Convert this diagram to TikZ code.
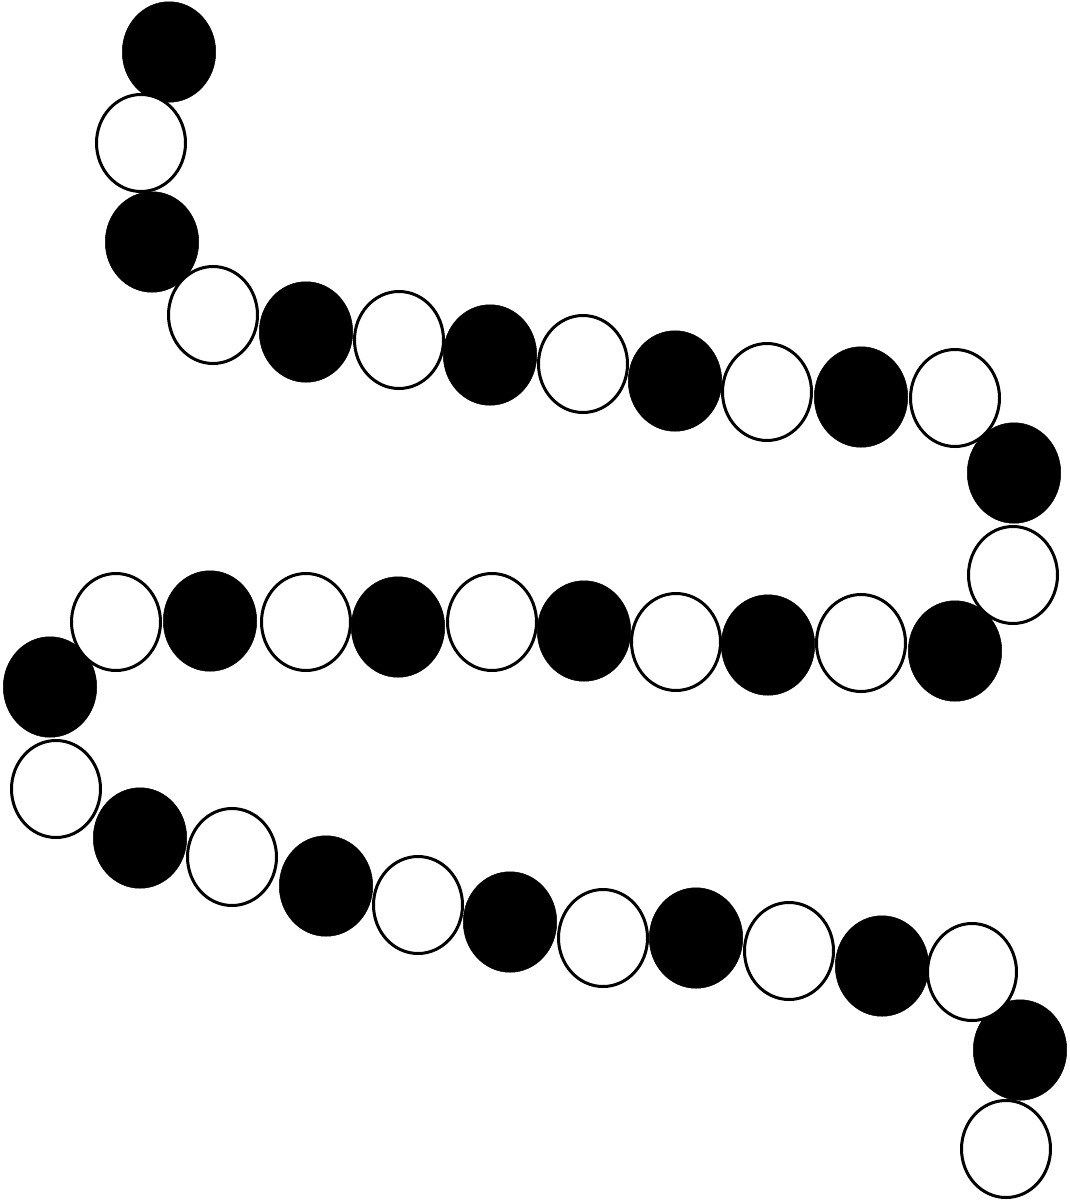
\documentclass[tikz,border=0pt]{standalone}
\usetikzlibrary{shapes.geometric}
\begin{document}
\begin{tikzpicture}[x=1pt,y=-1pt,
  blackbead/.style={ellipse,fill=black,draw=black,line width=0.5pt,inner sep=0pt,minimum width=93.5pt,minimum height=100.5pt},
  whitebead/.style={ellipse,fill=white,draw=black,line width=3pt,inner sep=0pt,minimum width=89pt,minimum height=97pt}]
\useasboundingbox (0,0) rectangle (1070,1200);
% black beads
\foreach \n/\x/\y in {1/169/52,3/152/242,5/306/332,7/490/355,9/675/381,11/861/397,13/1014/473,15/955/651,17/768/645,19/584/631,21/398/627,23/210/621,25/50/687,27/140/838,29/326/886,31/510/922,33/696/938,35/882/966,37/1020/1050}
  \node[blackbead] (b\n) at (\x,\y) {};
% white beads
\foreach \n/\x/\y in {2/141/143,4/213/315,6/399/340,8/583/364,10/767/392,12/955/398,14/1013/575,16/861/643,18/676/642,20/492/622,22/306/622,24/116/622,26/56/789,28/232/857,30/418/905,32/603/938,34/789/951,36/972/972,38/1006/1149}
  \node[whitebead] (b\n) at (\x,\y) {};
\end{tikzpicture}
\end{document}
